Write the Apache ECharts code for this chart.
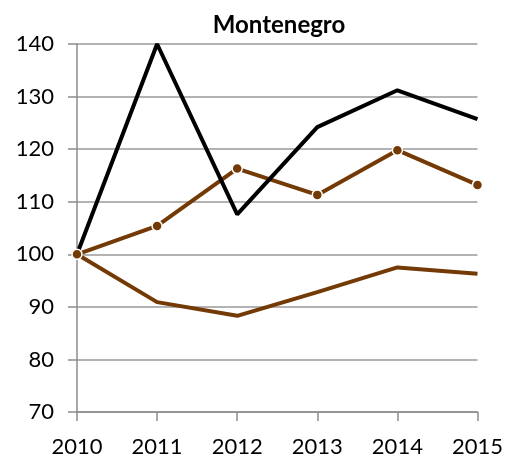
<!DOCTYPE html>
<html>
<head>
<meta charset="utf-8">
<script src="https://cdn.jsdelivr.net/npm/echarts@6/dist/echarts.min.js"></script>
<style>
  html, body { margin: 0; padding: 0; background: #fff; }
  #chart { width: 506px; height: 459px; }
</style>
</head>
<body>
<div id="chart"></div>
<script>
// data
const years = ['2010', '2011', '2012', '2013', '2014', '2015'];
const blackLine = [100, 140, 107.6, 124.2, 131.2, 125.7];
const dottedBrown = [100, 105.4, 116.3, 111.3, 119.8, 113.2];
const plainBrown = [100, 90.9, 88.3, 92.8, 97.5, 96.3];

const brown = '#743a06';
const font = 'Lato, "Open Sans", sans-serif';

let myChart = echarts.init(document.getElementById('chart'));
let option = {
  animation: false,
  title: {
    text: 'Montenegro',
    left: 274,
    textAlign: 'center',
    top: 8,
    textStyle: { fontFamily: font, fontSize: 24, fontWeight: 'bold', color: '#000' }
  },
  grid: { left: 77, right: 28, top: 44, bottom: 47, containLabel: false },
  xAxis: {
    type: 'category',
    data: years,
    boundaryGap: false,
    axisLine: { lineStyle: { color: '#8c8c8c', width: 1.5 } },
    axisTick: { show: true, length: 9, lineStyle: { color: '#8c8c8c', width: 1.5 } },
    axisLabel: { color: '#000', fontFamily: font, fontSize: 22, margin: 24 },
    splitLine: { show: false }
  },
  yAxis: {
    type: 'value',
    min: 70,
    max: 140,
    interval: 10,
    axisLine: { show: true, lineStyle: { color: '#8c8c8c', width: 1.5 } },
    axisTick: { show: true, length: 9, lineStyle: { color: '#8c8c8c', width: 1.5 } },
    axisLabel: { color: '#000', fontFamily: font, fontSize: 22, margin: 23 },
    splitLine: { lineStyle: { color: '#9a9a9a', width: 1.5 } }
  },
  series: [
    {
      name: 'plain',
      type: 'line',
      data: plainBrown,
      symbol: 'none',
      lineStyle: { color: brown, width: 4 },
      itemStyle: { color: brown }
    },
    {
      name: 'dotted',
      type: 'line',
      data: dottedBrown,
      symbol: 'circle',
      symbolSize: 10,
      lineStyle: { color: brown, width: 4 },
      itemStyle: { color: brown, borderColor: '#fff', borderWidth: 1.5 }
    },
    {
      name: 'black',
      type: 'line',
      data: blackLine,
      symbol: 'none',
      lineStyle: { color: '#000', width: 4 },
      itemStyle: { color: '#000' }
    }
  ]
};
option && myChart.setOption(option);
</script>
</body>
</html>
